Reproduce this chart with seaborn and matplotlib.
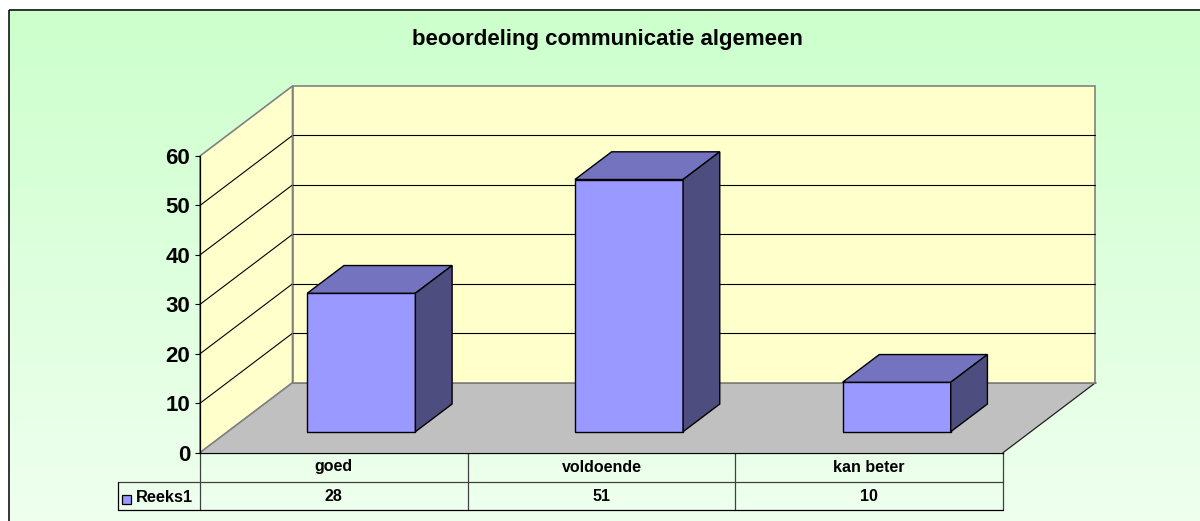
import numpy as np
import seaborn as sns
from matplotlib import pyplot as plt
from matplotlib.patches import Polygon, Rectangle
from matplotlib.transforms import Affine2D

title = 'beoordeling communicatie algemeen'
categories = ['goed', 'voldoende', 'kan beter']
values = [28, 51, 10]
series_name = 'Reeks1'
y_ticks = [0, 10, 20, 30, 40, 50, 60]

sns.set_style('white')
plt.rcParams['font.family'] = ['Liberation Sans', 'DejaVu Sans']
plt.rcParams['text.color'] = 'black'

W, H = 1200, 521
fig = plt.figure(figsize=(W / 100, H / 100), dpi=100, facecolor='white')

# background layer, works in reference pixels
bg = fig.add_axes([0, 0, 1, 1], zorder=0)
grad = np.zeros((256, 2, 3))
grad[:, :, 0] = np.linspace(0xCC, 0xEF, 256)[:, None] / 255
grad[:, :, 1] = 1
grad[:, :, 2] = np.linspace(0xCC, 0xEF, 256)[:, None] / 255
bg.imshow(grad, extent=(9, W + 5, H + 5, 9), aspect='auto', interpolation='bilinear', zorder=0)
bg.set_xlim(0, W)
bg.set_ylim(H, 0)
bg.axis('off')
bg.add_patch(Rectangle((8.5, 9.5), W + 20, H + 20, fc='none', ec='black', lw=1.1, zorder=1))

# front plane of the chart
x0, x1, y_top, y_bot = 200, 1003, 156, 452.7
wall_dx, wall_dy = 92.5, -70
ax = fig.add_axes([x0 / W, 1 - y_bot / H, (x1 - x0) / W, (y_bot - y_top) / H], zorder=1)
ax.patch.set_visible(False)

sns.barplot(x=categories, y=values, ax=ax, color='#9999FF', saturation=1, width=0.404,
            edgecolor='black', linewidth=1.0, zorder=4, clip_on=False)
ax.set_xlim(-0.5, 2.5)
ax.set_ylim(0, 60)
ax.set_xlabel('')
ax.set_ylabel('')
ax.set_xticks([])
ax.set_yticks(y_ticks)
ax.tick_params(axis='y', left=True, length=3.6, width=0.8, pad=3.5, colors='black')
for lab in ax.get_yticklabels():
    lab.set_fontsize(16)
    lab.set_fontweight('bold')
for s in ['top', 'right']:
    ax.spines[s].set_visible(False)
for s in ['left', 'bottom']:
    ax.spines[s].set_color('black')
    ax.spines[s].set_linewidth(0.9)
    ax.spines[s].set_zorder(3)


def shift(dx, dy):
    # display offset, given in reference pixels (y down)
    return ax.transData + Affine2D().translate(dx, -dy)


back = shift(wall_dx, wall_dy)

# walls and floor
ax.add_patch(Polygon([(-0.5, 0), (-0.5, 60), (2.5, 60), (2.5, 0)], closed=True, fc='#FFFFCC',
                     ec='#808080', lw=1.2, transform=back, zorder=0.5, clip_on=False))
bx, fy = x0 + wall_dx, y_bot + wall_dy
left_wall = [[x0, y_bot], [x0, y_top], [bx, y_top + wall_dy], [bx, fy]]
bg.add_patch(Polygon(left_wall, closed=True, fc='#FFFFCC', ec='#808080', lw=1.2, zorder=2))
floor = [[x0, y_bot], [x1, y_bot], [x1 + wall_dx, fy], [bx, fy]]
bg.add_patch(Polygon(floor, closed=True, fc='#C0C0C0', ec='none', zorder=2))
bg.plot([x0, bx], [y_bot, fy], color='#808080', lw=1.1, zorder=3)
bg.plot([bx, x1 + wall_dx], [fy, fy], color='#707070', lw=1.2, zorder=3)
bg.plot([x1, x1 + wall_dx], [y_bot, fy], color='#202020', lw=0.9, zorder=3)

# grid lines on the left and back wall
for v in y_ticks[1:-1]:
    py = y_bot - (y_bot - y_top) * v / 60
    bg.plot([x0, bx], [py, py + wall_dy], color='black', lw=0.8, zorder=3)
    ax.plot([-0.5, 2.5], [v, v], color='black', lw=0.8, transform=back, zorder=1, clip_on=False)

# move the bars back a bit and give them depth
bar_dx, bar_dy = 27.5, -21
depth_dx, depth_dy = 36.7, -27.7
front = shift(bar_dx, bar_dy)
rear = shift(bar_dx + depth_dx, bar_dy + depth_dy)
for bar in ax.patches:
    if not isinstance(bar, Rectangle):
        continue
    bar.set_transform(front)
    left, right, top = bar.get_x(), bar.get_x() + bar.get_width(), bar.get_height()
    a = front.transform([(left, top), (right, top), (right, 0)])
    b = rear.transform([(left, top), (right, top), (right, 0)])
    top_face = Polygon([a[0], a[1], b[1], b[0]], closed=True, fc='#7373BF', ec='black', lw=1.0,
                       zorder=4, clip_on=False)
    side_face = Polygon([a[1], a[2], b[2], b[1]], closed=True, fc='#4D4D80', ec='black', lw=1.0,
                        zorder=4, clip_on=False)
    fig.add_artist(top_face)
    fig.add_artist(side_face)
    top_face.set_transform(Affine2D())
    side_face.set_transform(Affine2D())

# data table under the chart
row1, row2 = 481.7, 510
col_w = (x1 - x0) / 3
lc = '#404040'
for i in range(4):
    bg.plot([x0 + i * col_w] * 2, [y_bot, row2], color=lc, lw=0.9, zorder=5)
bg.plot([117.5, x1], [row1, row1], color=lc, lw=0.9, zorder=5)
bg.plot([117.5, x1], [row2, row2], color='black', lw=0.9, zorder=5)
bg.plot([117.5, 117.5], [row1, row2], color='black', lw=0.9, zorder=5)
for i, (c, v) in enumerate(zip(categories, values)):
    cx = x0 + col_w * (i + 0.5)
    bg.text(cx, 467, c, ha='center', va='center', fontsize=11.5, fontweight='bold', zorder=6)
    bg.text(cx, 496.5, str(v), ha='center', va='center', fontsize=11.5, fontweight='bold', zorder=6)
bg.add_patch(Rectangle((122, 495), 8.5, 8.5, fc='#9999FF', ec='black', lw=0.9, zorder=6))
bg.text(136, 498, series_name, ha='left', va='center', fontsize=11.8, fontweight='bold', zorder=6)

bg.text(607, 39.5, title, ha='center', va='center', fontsize=16, fontweight='bold', zorder=6)

fig.savefig('out.png', dpi=100, facecolor='white')
